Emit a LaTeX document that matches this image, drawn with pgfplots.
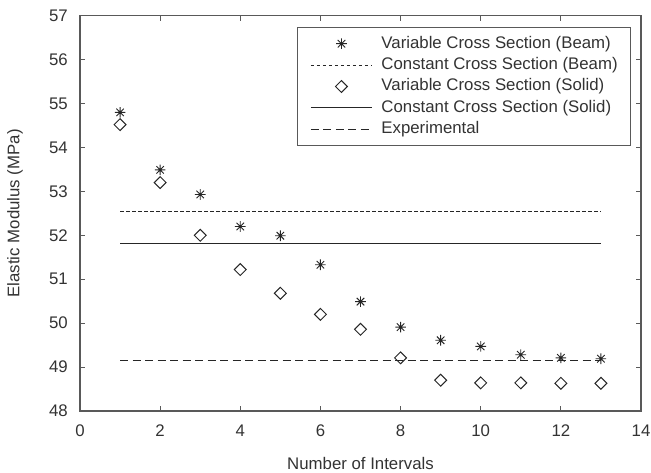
\documentclass[border=0pt]{standalone}
\usepackage{fontspec}
\setmainfont{Liberation Sans}
\usepackage{pgfplots}
\pgfplotsset{compat=1.18}

\definecolor{txt}{gray}{0.2}
\definecolor{axc}{gray}{0.35}
\definecolor{lnc}{gray}{0.15}

\pgfdeclareplotmark{mstar}{%
  \pgfpathmoveto{\pgfqpoint{-\pgfplotmarksize}{0pt}}\pgfpathlineto{\pgfqpoint{\pgfplotmarksize}{0pt}}%
  \pgfpathmoveto{\pgfqpoint{0pt}{-\pgfplotmarksize}}\pgfpathlineto{\pgfqpoint{0pt}{\pgfplotmarksize}}%
  \pgfpathmoveto{\pgfqpoint{-.7071\pgfplotmarksize}{-.7071\pgfplotmarksize}}\pgfpathlineto{\pgfqpoint{.7071\pgfplotmarksize}{.7071\pgfplotmarksize}}%
  \pgfpathmoveto{\pgfqpoint{-.7071\pgfplotmarksize}{.7071\pgfplotmarksize}}\pgfpathlineto{\pgfqpoint{.7071\pgfplotmarksize}{-.7071\pgfplotmarksize}}%
  \pgfusepathqstroke}

\pgfplotsset{
  lineleg/.style={legend image code/.code={\draw[##1] (0bp,0bp) -- (61bp,0bp);}},
  markleg/.style={legend image code/.code={\draw[##1] plot coordinates {(30.5bp,0bp)};}},
}
\newcommand{\fsz}{\fontsize{16.8bp}{20bp}\selectfont}

\begin{document}
\begin{tikzpicture}[font=\fsz]
\begin{axis}[name=ax, scale only axis, width=561bp, height=395.3bp,
  xmin=0, xmax=14, ymin=48, ymax=57,
  xtick={0,2,...,14}, ytick={48,...,57},
  tick align=inside, major tick length=5bp,
  axis line style={axc, line width=1.1bp},
  every tick/.style={axc, line width=1bp},
  /pgf/number format/assume math mode=true,
  tick label style={text=txt, inner sep=0pt, font=\fsz},
  yticklabel style={xshift=-12bp},
  xticklabel style={yshift=-14bp},
  xlabel={Number of Intervals}, ylabel={Elastic Modulus (MPa)},
  label style={text=txt, font=\fsz},
  xlabel style={at={(axis description cs:0.5,-0.1316)}, anchor=center},
  ylabel style={at={(axis description cs:-0.1159,0.5)}, anchor=center},
  legend cell align=left,
  legend style={at={(axis description cs:0.9816,0.9722)}, anchor=north east,
    draw=axc, line width=1bp, text=txt, font=\fsz,
    nodes={inner sep=0pt, text height=12.5bp, text depth=3.5bp},
    row sep=5.4bp, column sep=9bp, inner xsep=12.5bp, inner ysep=8.5bp},
]
\addplot[only marks, mark=mstar, mark size=5.3bp, mark options={lnc, line width=0.9bp}, markleg]
  coordinates {(1,54.8)(2,53.49)(3,52.93)(4,52.2)(5,51.99)(6,51.33)(7,50.49)(8,49.91)(9,49.61)(10,49.47)(11,49.28)(12,49.21)(13,49.19)};
\addlegendentry{Variable Cross Section (Beam)}
\addplot[lnc, line width=1bp, dash pattern=on 3.5bp off 2.5bp, mark=none, lineleg]
  coordinates {(1,52.55)(13,52.55)};
\addlegendentry{Constant Cross Section (Beam)}
\addplot[only marks, mark=square, mark size=4.2bp, mark options={rotate=45, lnc, line width=1bp}, markleg]
  coordinates {(1,54.52)(2,53.2)(3,52.0)(4,51.22)(5,50.68)(6,50.2)(7,49.86)(8,49.21)(9,48.7)(10,48.64)(11,48.64)(12,48.63)(13,48.63)};
\addlegendentry{Variable Cross Section (Solid)}
\addplot[lnc, line width=1bp, mark=none, lineleg]
  coordinates {(1,51.82)(13,51.82)};
\addlegendentry{Constant Cross Section (Solid)}
\addplot[lnc, line width=1bp, dash pattern=on 8bp off 4.5bp, mark=none, lineleg]
  coordinates {(1,49.15)(13,49.15)};
\addlegendentry{Experimental}
\end{axis}
\pgfresetboundingbox
\path (ax.south west) +(-80bp,-62bp);
\path (ax.north east) +(10bp,15.7bp);
\end{tikzpicture}
\end{document}
